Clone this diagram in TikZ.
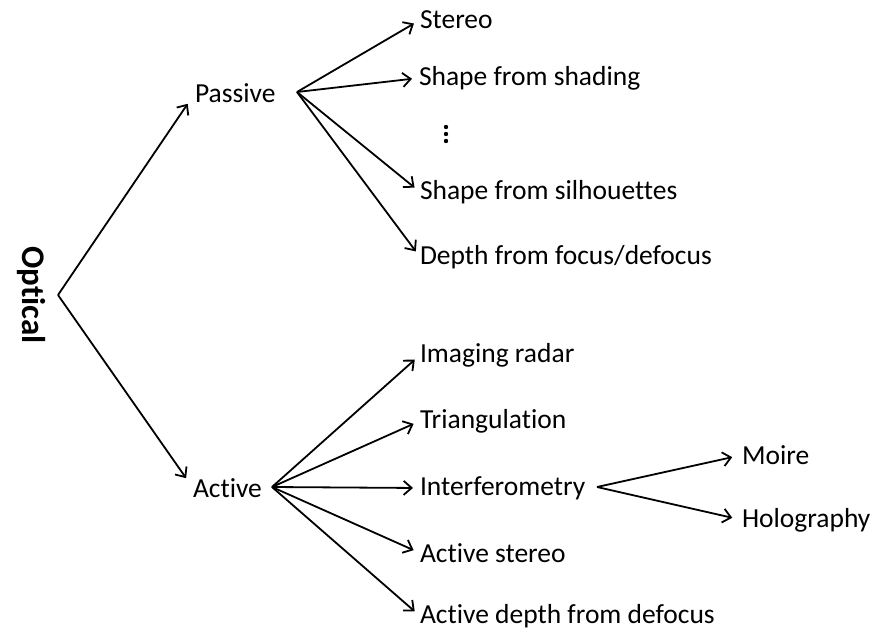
\documentclass[tikz,border=0pt]{standalone}
\usepackage{fontspec}
\setmainfont{Carlito}[Ligatures={NoCommon}]
\usetikzlibrary{arrows.meta}
\begin{document}
\begin{tikzpicture}[x=1pt,y=-1pt,
  lbl/.style={anchor=west,inner sep=0pt,outer sep=0pt,font=\fontsize{27.5}{30}\selectfont},
  arr/.style={draw=black,line width=1.8pt,-{Straight Barb[length=8pt,width=14pt,line width=1.8pt]},shorten >=7pt},
  dot/.style={fill=black,draw=none}]
\useasboundingbox (0,0) rectangle (873,635);
% root
\node[font=\fontsize{33}{36}\selectfont\bfseries,rotate=-90,inner sep=0pt] (optical) at (31,295) {Optical};
\coordinate (oa) at (58,295);
\node[lbl] (passive) at (195,93) {Passive};
\node[lbl] (active) at (193,488) {Active};
\draw[arr,shorten >=13pt] (oa) -- (passive.west);
\draw[arr,shorten >=12pt] (oa) -- (active.west);
% passive
\coordinate (pa) at (297,92);
\node[lbl] (stereo) at (420,20) {Stereo};
\node[lbl] (shading) at (419,78) {Shape from shading};
\fill[dot] (446,127) circle (2.2);
\fill[dot] (446,134) circle (2.2);
\fill[dot] (446,141) circle (2.2);
\node[lbl] (silh) at (420,192) {Shape from silhouettes};
\node[lbl] (focus) at (420,257) {Depth from focus/defocus};
\draw[arr] (pa) -- (stereo.west);
\draw[arr] (pa) -- (shading.west);
\draw[arr] (pa) -- (silh.west);
\draw[arr] (pa) -- (focus.west);
% active
\coordinate (ac) at (272,487);
\node[lbl] (radar) at (420,355) {Imaging radar};
\node[lbl] (tri) at (420,421) {Triangulation};
\node[lbl] (interf) at (420,488) {Interferometry};
\node[lbl] (astereo) at (420,553) {Active stereo};
\node[lbl] (adepth) at (420,616) {Active depth from defocus};
\draw[arr] (ac) -- (radar.west);
\draw[arr] (ac) -- (tri.west);
\draw[arr] (ac) -- (interf.west);
\draw[arr] (ac) -- (astereo.west);
\draw[arr] (ac) -- (adepth.west);
% interferometry
\coordinate (ic) at (597,487);
\node[lbl] (moire) at (742,455) {Moire};
\node[lbl] (holo) at (742,520) {Holography};
\draw[arr,shorten >=10pt] (ic) -- (moire.west);
\draw[arr,shorten >=10pt] (ic) -- (holo.west);
\end{tikzpicture}
\end{document}
